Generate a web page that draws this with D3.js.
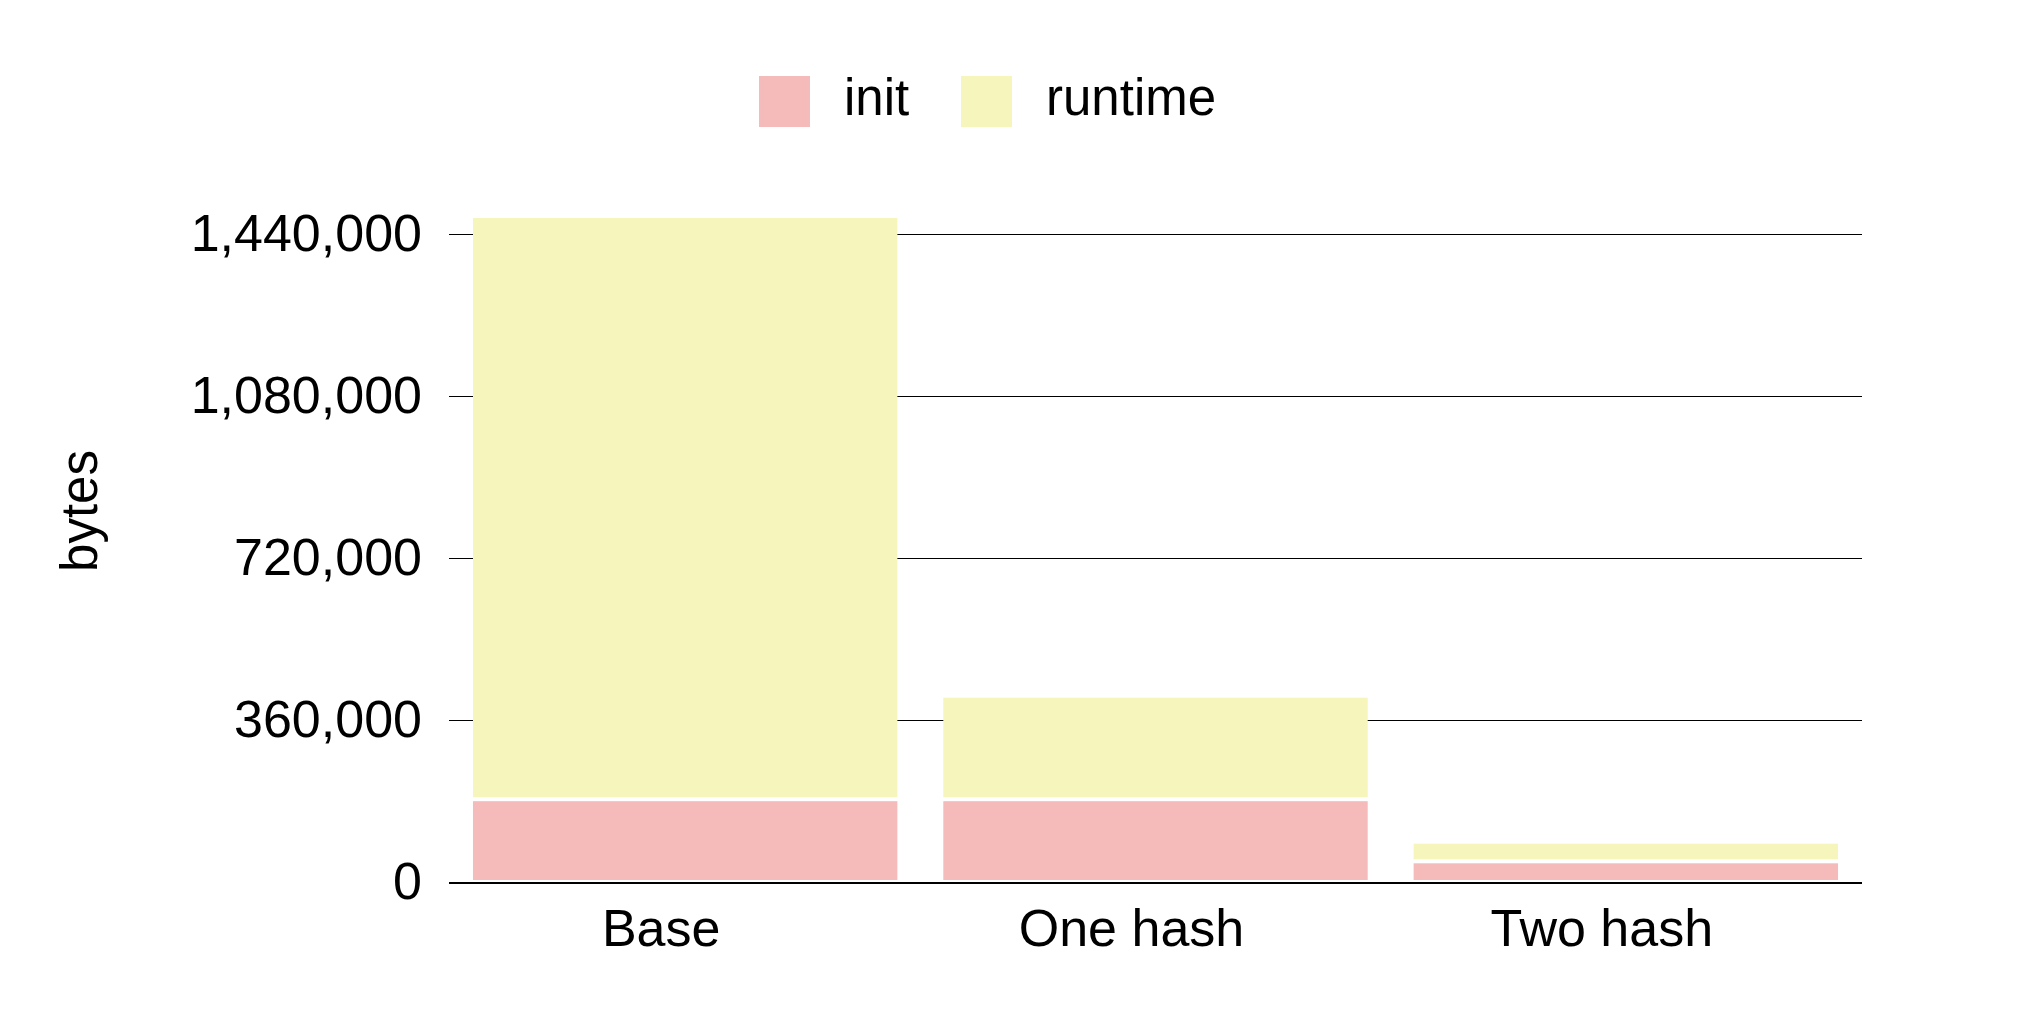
<!DOCTYPE html>
<html>
<head>
<meta charset="utf-8">
<script src="https://cdn.jsdelivr.net/npm/d3@7"></script>
<style>
  body { margin: 0; background: #fff; }
  text { font-family: "Liberation Sans", Arial, sans-serif; fill: #000; }
</style>
</head>
<body>
<div id="chart"></div>
<script>
const width = 2028;
const height = 1024;

const categories = ["Base", "One hash", "Two hash"];
const series = ["init", "runtime"];
const initValues = [184000, 184000, 46000];
const runtimeValues = [1296000, 230000, 43600];
const yTicks = [0, 360000, 720000, 1080000, 1440000];
const colors = { init: "#f5baba", runtime: "#f5f5bc" };

const fontSize = 52;
const legendFontSize = 51;
const gap = 2;  // white gap around each bar segment

const data = categories.map((c, i) => ({ category: c, init: initValues[i], runtime: runtimeValues[i] }));
const stacked = d3.stack().keys(series)(data);

const svg = d3.select("#chart")
    .append("svg")
    .attr("width", width)
    .attr("height", height);

const x = d3.scaleBand()
    .domain(categories)
    .range([449, 1862])
    .paddingInner(0.0977)
    .paddingOuter(0.051);

const y = d3.scaleLinear()
    .domain([0, 1440000])
    .range([882, 234]);

// grid lines
svg.append("g")
    .selectAll("line")
    .data(yTicks)
    .enter()
    .append("line")
    .attr("x1", 449)
    .attr("x2", 1862)
    .attr("y1", d => d === 0 ? y(d) + 1 : Math.round(y(d)) + 0.5)
    .attr("y2", d => d === 0 ? y(d) + 1 : Math.round(y(d)) + 0.5)
    .style("stroke", "#000")
    .style("stroke-width", d => d === 0 ? 2 : 1);

// tick labels
svg.append("g")
    .selectAll("text")
    .data(yTicks)
    .enter()
    .append("text")
    .attr("x", 422)
    .attr("y", d => y(d))
    .attr("dy", "0.32em")
    .style("font-size", fontSize + "px")
    .style("text-anchor", "end")
    .text(d => d3.format(",")(d));

// bars
svg.append("g")
    .selectAll("g")
    .data(stacked)
    .enter()
    .append("g")
    .style("fill", d => colors[d.key])
    .selectAll("rect")
    .data(d => d)
    .enter()
    .append("rect")
    .attr("x", d => x(d.data.category))
    .attr("width", x.bandwidth())
    .attr("y", d => y(d[1]) + gap)
    .attr("height", d => y(d[0]) - y(d[1]) - 2 * gap);

// category labels
svg.append("g")
    .selectAll("text")
    .data(categories)
    .enter()
    .append("text")
    .attr("x", d => x(d) + x.bandwidth() / 2 - 24)
    .attr("y", 946)
    .style("font-size", fontSize + "px")
    .style("text-anchor", "middle")
    .text(d => d);

// y axis title
svg.append("text")
    .attr("transform", "translate(97,511) rotate(-90)")
    .style("font-size", legendFontSize + "px")
    .style("text-anchor", "middle")
    .text("bytes");

// legend
const legendX = [759, 961];
const legend = svg.append("g")
    .selectAll("g")
    .data(series)
    .enter()
    .append("g")
    .attr("transform", (d, i) => `translate(${legendX[i]},76)`);

legend.append("rect")
    .attr("width", 51)
    .attr("height", 51)
    .style("fill", d => colors[d]);

legend.append("text")
    .attr("x", 85)
    .attr("y", 39)
    .style("font-size", legendFontSize + "px")
    .text(d => d);
</script>
</body>
</html>
